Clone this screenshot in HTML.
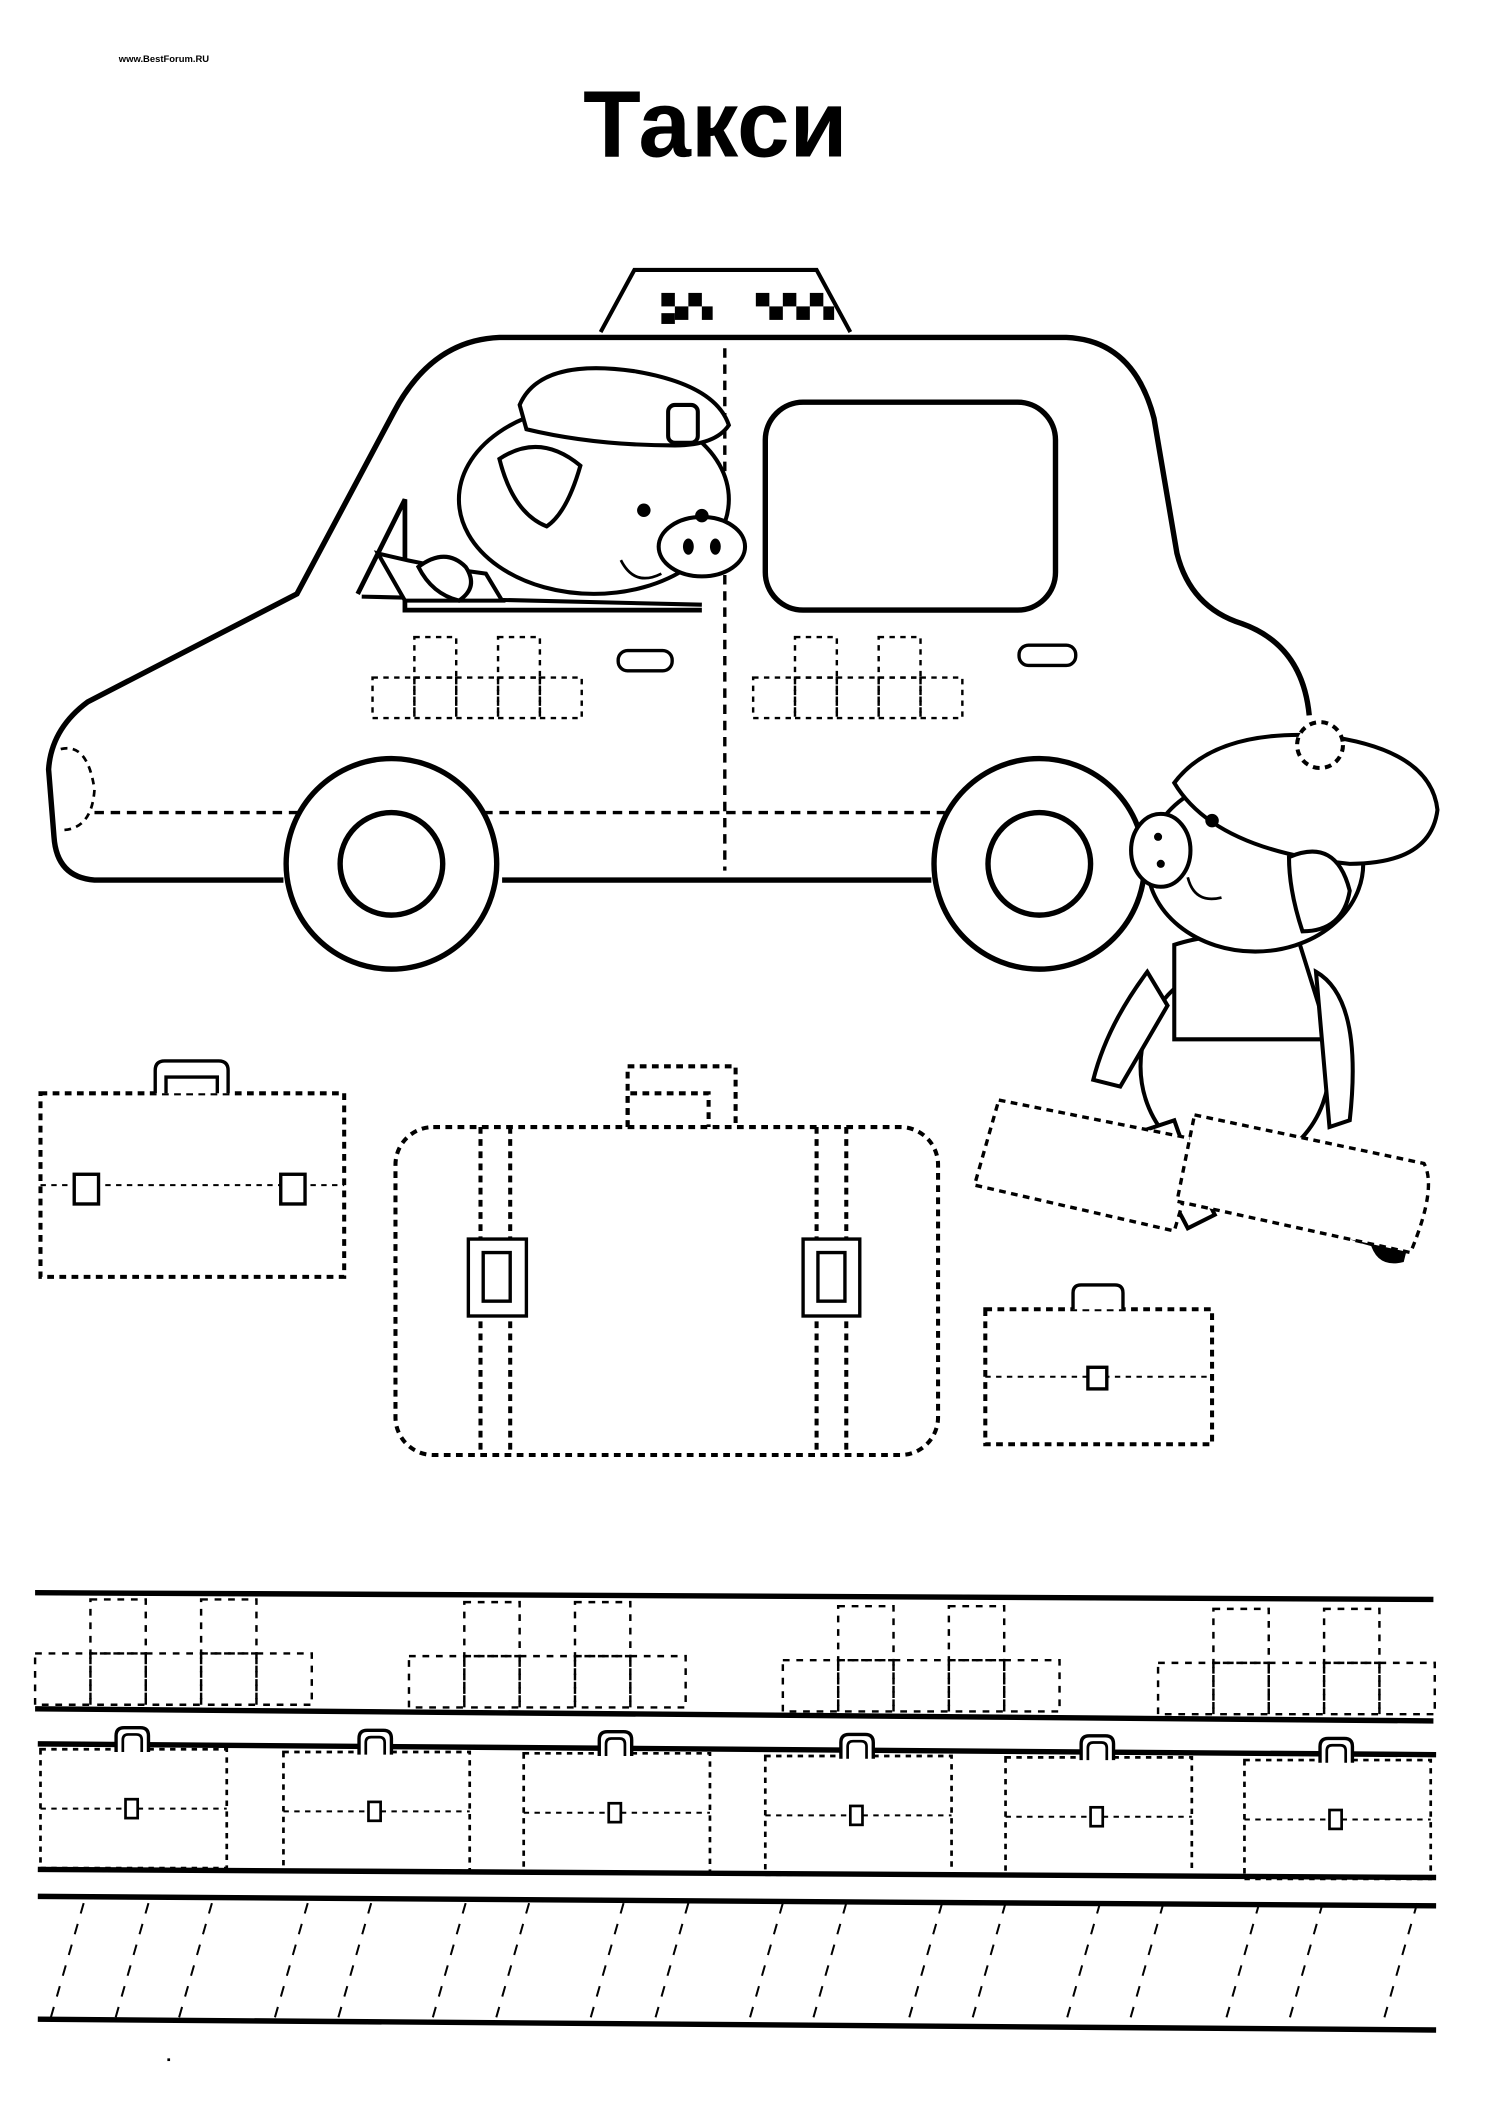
<!DOCTYPE html>
<html><head><meta charset="utf-8"><style>
html,body{margin:0;padding:0;background:#fff}
svg{display:block}
</style></head><body>
<svg width="1509" height="2116" viewBox="0 0 1118 1567.7" xmlns="http://www.w3.org/2000/svg">
<defs>
<g id="chk">
  <rect x="0" y="40" width="41" height="38"/><rect x="41" y="40" width="41" height="38"/><rect x="82" y="40" width="41" height="38"/><rect x="123" y="40" width="41" height="38"/><rect x="164" y="40" width="41" height="38"/>
  <rect x="41" y="0" width="41" height="40"/><rect x="123" y="0" width="41" height="40"/>
</g>
<g id="chk2">
  <rect x="0" y="30" width="31" height="30"/><rect x="31" y="30" width="31" height="30"/><rect x="62" y="30" width="31" height="30"/><rect x="93" y="30" width="31" height="30"/><rect x="124" y="30" width="31" height="30"/>
  <rect x="31" y="0" width="31" height="30"/><rect x="93" y="0" width="31" height="30"/>
</g>
<g id="case">
  <rect x="0" y="0" width="138" height="88" fill="none" stroke="#000" stroke-width="2" stroke-dasharray="4,4"/>
  <line x1="0" y1="44" x2="138" y2="44" stroke="#000" stroke-width="1.5" stroke-dasharray="4,4"/>
  <rect x="63" y="37" width="9" height="14" fill="#fff" stroke="#000" stroke-width="2"/>
  <path d="M56,2 V-10 Q56,-16 62,-16 H74 Q80,-16 80,-10 V2" fill="#fff" stroke="#000" stroke-width="2.5"/>
  <path d="M61,2 V-7 Q61,-11 65,-11 H71 Q75,-11 75,-7 V2" fill="none" stroke="#000" stroke-width="2"/>
</g>
</defs>

<text x="88" y="46" font-family="Liberation Sans, sans-serif" font-size="7" font-weight="bold">www.BestForum.RU</text>
<text x="530" y="116" text-anchor="middle" font-family="Liberation Sans, DejaVu Sans, sans-serif" font-size="70" font-weight="bold">Такси</text>

<path d="M445,246 L470,200 L605,200 L630,246" fill="#fff" stroke="#000" stroke-width="3"/>
<g fill="#000">
<rect x="490" y="217" width="10" height="10"/><rect x="510" y="217" width="10" height="10"/><rect x="500" y="227" width="10" height="10"/><rect x="520" y="227" width="8" height="10"/><rect x="490" y="232" width="10" height="8"/>
<rect x="560" y="217" width="10" height="10"/><rect x="580" y="217" width="10" height="10"/><rect x="570" y="227" width="10" height="10"/><rect x="590" y="227" width="10" height="10"/><rect x="600" y="217" width="10" height="10"/><rect x="610" y="227" width="8" height="10"/>
</g>

<path d="M210,652 L70,652 Q42,650 40,620 L36,570 Q38,540 65,520 L220,440 L292,305 Q320,252 370,250 L790,250 Q840,252 855,310 L872,410 Q882,450 920,462 Q965,478 970,530" fill="none" stroke="#000" stroke-width="4"/>
<line x1="372" y1="652" x2="690" y2="652" stroke="#000" stroke-width="4"/>
<path d="M45,555 Q65,550 70,585 Q68,615 45,615" fill="none" stroke="#000" stroke-width="2" stroke-dasharray="5,4"/>
<line x1="70" y1="602" x2="700" y2="602" stroke="#000" stroke-width="2.5" stroke-dasharray="7,5"/>
<line x1="537" y1="258" x2="537" y2="645" stroke="#000" stroke-width="2.5" stroke-dasharray="7,5"/>
<rect x="567" y="298" width="215" height="154" rx="28" fill="none" stroke="#000" stroke-width="4"/>
<path d="M265,440 L300,370 L300,452 L520,452" fill="none" stroke="#000" stroke-width="3.5"/>
<path d="M268,442 L520,448" fill="none" stroke="#000" stroke-width="3"/>
<rect x="458" y="482" width="40" height="15" rx="7" fill="none" stroke="#000" stroke-width="2.5"/>
<rect x="755" y="478" width="42" height="15" rx="7" fill="none" stroke="#000" stroke-width="2.5"/>
<g fill="none" stroke="#000" stroke-width="1.8" stroke-dasharray="4,4">
<use href="#chk2" x="276" y="472"/><use href="#chk2" x="558" y="472"/>
</g>
<circle cx="290" cy="640" r="78" fill="#fff" stroke="#000" stroke-width="4"/>
<circle cx="290" cy="640" r="38" fill="#fff" stroke="#000" stroke-width="4"/>
<circle cx="770" cy="640" r="78" fill="#fff" stroke="#000" stroke-width="4"/>
<circle cx="770" cy="640" r="38" fill="#fff" stroke="#000" stroke-width="4"/>

<g fill="#fff" stroke="#000" stroke-width="3">
<path d="M280,410 Q320,420 360,425 L372,445 L300,445 Z"/>
<ellipse cx="440" cy="370" rx="100" ry="70"/>
<path d="M385,300 Q400,265 470,275 Q530,285 540,315 Q530,330 500,330 Q440,330 390,318 Z"/>
<rect x="495" y="300" width="22" height="28" rx="5"/>
<path d="M370,340 Q400,320 430,345 Q420,380 405,390 Q380,380 370,340 Z"/>
<ellipse cx="520" cy="405" rx="32" ry="22"/>
<path d="M310,420 Q330,405 345,420 Q355,435 340,445 Q320,440 310,420Z"/>
</g>
<circle cx="477" cy="378" r="5"/><circle cx="520" cy="382" r="5"/>
<ellipse cx="510" cy="405" rx="4" ry="6"/><ellipse cx="530" cy="405" rx="4" ry="6"/>
<path d="M460,415 Q470,435 490,425" fill="none" stroke="#000" stroke-width="2"/>

<g fill="#fff" stroke="#000" stroke-width="3">
<ellipse cx="915" cy="790" rx="70" ry="75"/>
<path d="M870,700 Q900,690 960,690 L985,770 L870,770 Z"/>
<ellipse cx="930" cy="640" rx="80" ry="65"/>
<path d="M870,580 Q900,540 980,545 Q1060,555 1065,600 Q1060,640 1000,640 Q900,630 870,580 Z"/>
<circle cx="978" cy="552" r="17" stroke-dasharray="5,4"/>
<ellipse cx="860" cy="630" rx="22" ry="27"/>
<path d="M955,635 Q990,620 1000,660 Q995,690 965,690 Q955,660 955,635Z"/>
<path d="M850,720 Q820,760 810,800 L830,805 L865,745Z"/>
<path d="M975,720 Q1010,740 1000,830 L985,835 Z"/>
<path d="M840,840 Q870,890 880,910 L900,900 Q880,860 870,830Z"/>
<path d="M950,880 Q985,920 1035,925 L1040,905 Q990,895 975,870Z"/>
</g>
<circle cx="898" cy="608" r="5"/><circle cx="858" cy="620" r="3"/><circle cx="860" cy="640" r="3"/>
<path d="M880,650 Q885,670 905,665" fill="none" stroke="#000" stroke-width="2"/>
<path d="M800,860 Q815,845 835,850 L850,878 Q820,890 800,875Z" fill="#000"/>
<path d="M1015,920 Q1030,910 1045,915 L1040,935 Q1020,940 1015,920Z" fill="#000"/>
<g fill="#fff" stroke="#000" stroke-width="2.5" stroke-dasharray="5,4">
<path d="M740,815 L890,845 L870,912 L722,878 Z"/>
<path d="M885,826 L1055,862 Q1065,880 1045,928 L872,890 Z"/>
</g>

<g fill="none" stroke="#000" stroke-width="3" stroke-dasharray="5,4">
<rect x="30" y="810" width="225" height="136"/>
<rect x="293" y="835" width="402" height="243" rx="28"/>
<path d="M465,835 V790 H545 V835"/><path d="M465,835 V810 H525 V835"/>
<line x1="356" y1="835" x2="356" y2="1078"/><line x1="378" y1="835" x2="378" y2="1078"/>
<line x1="605" y1="835" x2="605" y2="1078"/><line x1="627" y1="835" x2="627" y2="1078"/>
<rect x="730" y="970" width="168" height="100"/>
</g>
<g fill="none" stroke="#000" stroke-width="1.5" stroke-dasharray="4,4">
<line x1="30" y1="878" x2="255" y2="878"/><line x1="730" y1="1020" x2="898" y2="1020"/>
</g>
<g fill="#fff" stroke="#000" stroke-width="2.5">
<path d="M115,810 V793 Q115,786 122,786 H162 Q169,786 169,793 V810"/>
<path d="M123,810 V798 H161 V810" fill="none"/>
<rect x="55" y="870" width="18" height="22"/><rect x="208" y="870" width="18" height="22"/>
<rect x="347" y="918" width="43" height="57"/><rect x="358" y="928" width="20" height="36"/>
<rect x="595" y="918" width="42" height="57"/><rect x="606" y="928" width="20" height="36"/>
<path d="M795,970 V958 Q795,952 801,952 H826 Q832,952 832,958 V970"/>
<rect x="806" y="1013" width="14" height="16"/>
</g>

<g stroke="#000" stroke-width="4">
<line x1="26" y1="1180" x2="1062" y2="1185"/>
<line x1="26" y1="1266" x2="1062" y2="1275"/>
<line x1="28" y1="1292" x2="1064" y2="1300"/>
<line x1="28" y1="1385" x2="1064" y2="1391"/>
<line x1="28" y1="1405" x2="1064" y2="1412"/>
<line x1="28" y1="1496" x2="1064" y2="1504"/>
</g>
<g fill="none" stroke="#000" stroke-width="1.8" stroke-dasharray="5,5">
<use href="#chk" x="26" y="1185"/><use href="#chk" x="303" y="1187"/><use href="#chk" x="580" y="1190"/><use href="#chk" x="858" y="1192"/>
</g>
<use href="#case" x="30" y="1296"/><use href="#case" x="210" y="1298"/><use href="#case" x="388" y="1299"/><use href="#case" x="567" y="1301"/><use href="#case" x="745" y="1302"/><use href="#case" x="922" y="1304"/>
<g stroke="#000" stroke-width="1.5" stroke-dasharray="8,8">
<line x1="110" y1="1410" x2="85" y2="1497"/><line x1="157" y1="1410" x2="132" y2="1497"/><line x1="228" y1="1410" x2="203" y2="1497"/><line x1="275" y1="1410" x2="250" y2="1497"/><line x1="345" y1="1410" x2="320" y2="1497"/><line x1="392" y1="1410" x2="367" y2="1497"/><line x1="462" y1="1410" x2="437" y2="1497"/><line x1="510" y1="1410" x2="485" y2="1497"/><line x1="580" y1="1410" x2="555" y2="1497"/><line x1="627" y1="1410" x2="602" y2="1497"/><line x1="698" y1="1410" x2="673" y2="1497"/><line x1="745" y1="1410" x2="720" y2="1497"/><line x1="815" y1="1410" x2="790" y2="1497"/><line x1="862" y1="1410" x2="837" y2="1497"/><line x1="933" y1="1410" x2="908" y2="1497"/><line x1="980" y1="1410" x2="955" y2="1497"/><line x1="1050" y1="1410" x2="1025" y2="1497"/><line x1="62" y1="1410" x2="37" y2="1497"/>
</g>
<rect x="124" y="1525" width="2" height="2"/>
</svg>
</body></html>
